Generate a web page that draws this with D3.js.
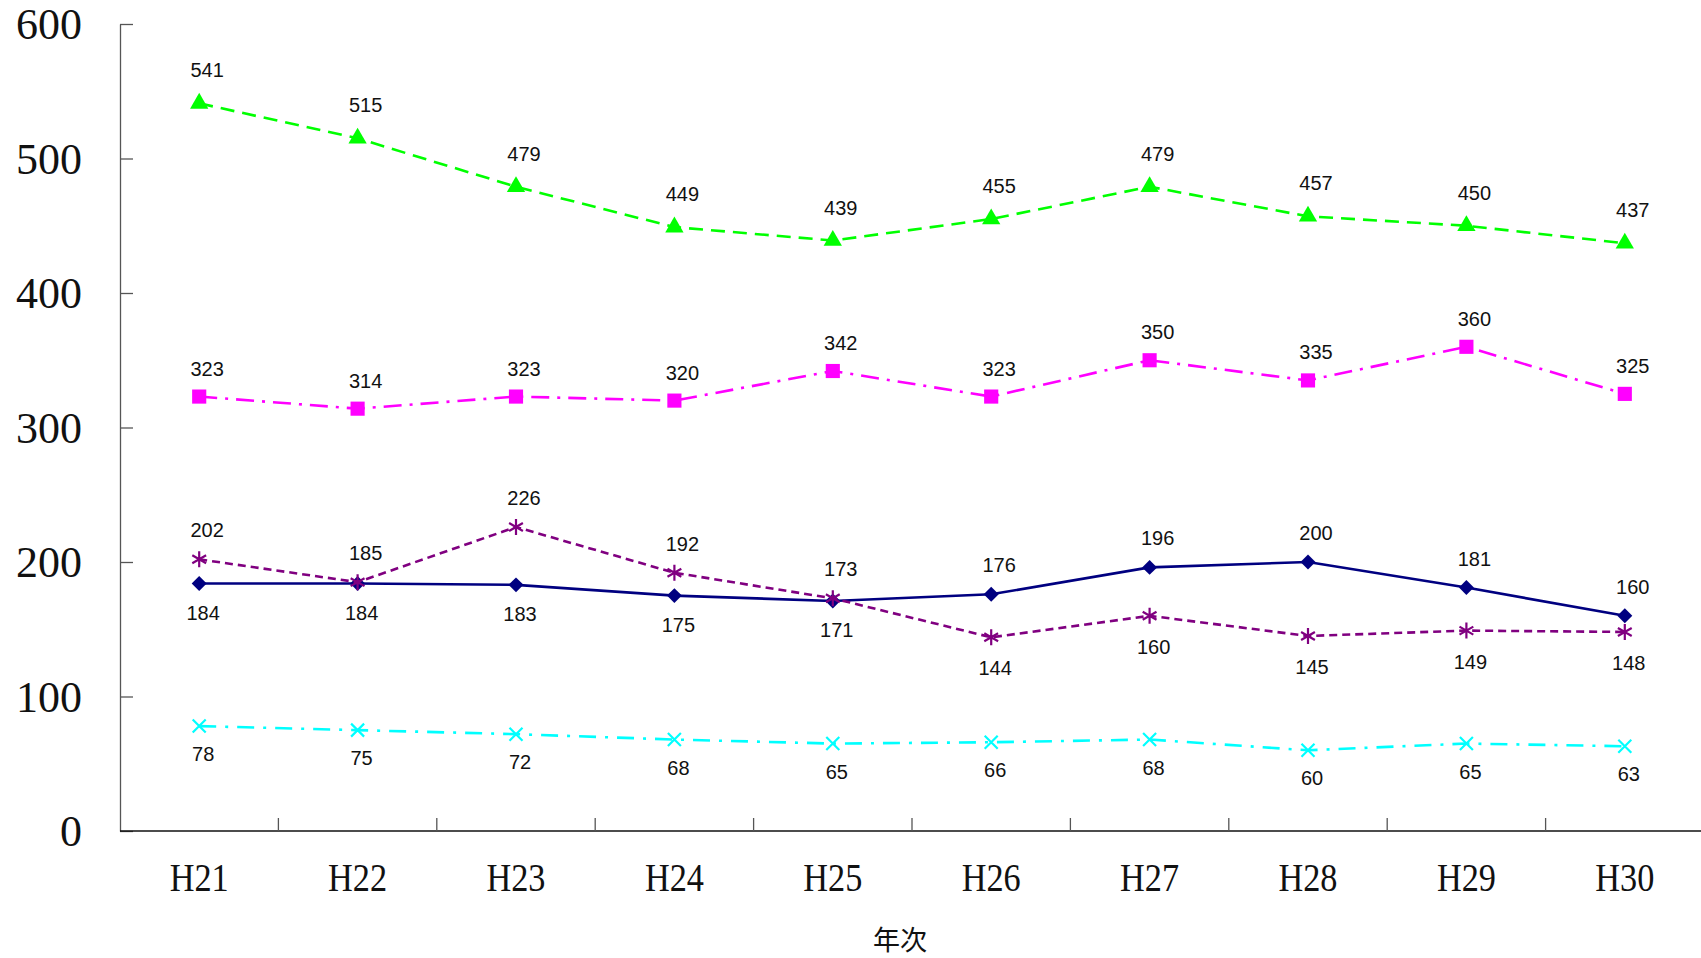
<!DOCTYPE html>
<html lang='ja'>
  <head>
    <meta charset='utf-8'>
    <style>
      body { margin: 0; background: #fff; }
      svg { display: block; }
    </style>
  </head>
  <body>
    <div id='chart'></div>

    <script src='https://cdn.jsdelivr.net/npm/d3@7'></script>
    <script>
      // years (categories)
      var years = ['H21', 'H22', 'H23', 'H24', 'H25', 'H26', 'H27', 'H28', 'H29', 'H30'];
      var yTicks = [0, 100, 200, 300, 400, 500, 600];

      // series values
      var greenVals   = [541, 515, 479, 449, 439, 455, 479, 457, 450, 437];
      var magentaVals = [323, 314, 323, 320, 342, 323, 350, 335, 360, 325];
      var navyVals    = [184, 184, 183, 175, 171, 176, 196, 200, 181, 160];
      var purpleVals  = [202, 185, 226, 192, 173, 144, 160, 145, 149, 148];
      var cyanVals    = [78, 75, 72, 68, 65, 66, 68, 60, 65, 63];

      // which side the value label sits on
      var navyLabelSide   = ['below', 'below', 'below', 'below', 'below', 'above', 'above', 'above', 'above', 'above'];
      var purpleLabelSide = ['above', 'above', 'above', 'above', 'above', 'below', 'below', 'below', 'below', 'below'];

      (function () {
        var width = 1701, height = 958;
        var plotLeft = 120, plotTop = 24, plotBottom = 831, plotRight = 1704;

        var svg = d3.select('#chart').append('svg')
            .attr('width', width)
            .attr('height', height);

        var x = d3.scaleBand().domain(years).range([plotLeft, plotRight]);
        var y = d3.scaleLinear().domain([0, 600]).range([plotBottom, plotTop]);

        // y axis
        var yAxis = svg.append('g')
            .attr('transform', 'translate(' + plotLeft + ',0)')
            .call(d3.axisRight(y).tickValues(yTicks).tickSize(13).tickSizeOuter(0).tickFormat(''));
        yAxis.select('.domain').attr('stroke', '#555').attr('stroke-width', 1.3);
        yAxis.selectAll('.tick line').attr('stroke', '#555').attr('stroke-width', 1.3);

        svg.append('g').selectAll('text')
            .data(yTicks)
          .enter().append('text')
            .attr('x', 82)
            .attr('y', function (d) { return y(d); })
            .attr('dy', '0.35em')
            .attr('text-anchor', 'end')
            .attr('font-family', 'Liberation Serif, serif')
            .attr('font-size', 44)
            .attr('fill', '#111')
            .text(function (d) { return d; });

        // x axis
        var xAxis = svg.append('g')
            .attr('transform', 'translate(0,' + plotBottom + ')');
        xAxis.append('line')
            .attr('x1', plotLeft).attr('x2', width)
            .attr('stroke', '#111').attr('stroke-width', 1.3);
        xAxis.selectAll('line.tk')
            .data(years.slice(1))
          .enter().append('line')
            .attr('class', 'tk')
            .attr('x1', function (d) { return x(d); })
            .attr('x2', function (d) { return x(d); })
            .attr('y1', 0).attr('y2', -13)
            .attr('stroke', '#555').attr('stroke-width', 1.3);
        xAxis.selectAll('text')
            .data(years)
          .enter().append('text')
            .attr('x', function (d) { return x(d) + x.bandwidth() / 2; })
            .attr('y', 60)
            .attr('text-anchor', 'middle')
            .attr('font-family', 'Liberation Serif, serif')
            .attr('font-size', 40)
            .attr('textLength', 59)
            .attr('lengthAdjust', 'spacingAndGlyphs')
            .attr('fill', '#111')
            .text(function (d) { return d; });

        svg.append('text')
            .attr('x', 900)
            .attr('y', 950)
            .attr('text-anchor', 'middle')
            .attr('font-family', 'Noto Sans CJK JP, sans-serif')
            .attr('font-size', 27)
            .attr('fill', '#111')
            .text('年次');

        var cx = function (i) { return x(years[i]) + x.bandwidth() / 2; };

        var asterisk = d3.symbolAsterisk || d3.symbolCross;
        var times = d3.symbolTimes || d3.symbolX || d3.symbolCross;

        // above / below label offsets differ a little per series
        var series = [
          { vals: cyanVals, color: '#00FFFF', dash: '17,9,3,9', sym: times, size: 112, fill: false, side: null, defSide: 'below', up: -22, down: 35 },
          { vals: navyVals, color: '#000080', dash: null, sym: d3.symbolSquare, size: 112, rot: 45, fill: true, side: navyLabelSide, up: -22, down: 36 },
          { vals: purpleVals, color: '#800080', dash: '8,5', sym: asterisk, size: 180, fill: false, side: purpleLabelSide, up: -22, down: 38 },
          { vals: magentaVals, color: '#FF00FF', dash: '18,8,3,8', sym: d3.symbolSquare, size: 200, fill: true, side: null, defSide: 'above', up: -21, down: 35 },
          { vals: greenVals, color: '#00FF00', dash: '14,8', sym: d3.symbolTriangle, size: 145, fill: true, side: null, defSide: 'above', up: -26, down: 35 }
        ];

        var line = d3.line()
            .x(function (d, i) { return cx(i); })
            .y(function (d) { return y(d); });

        series.forEach(function (s) {
          var g = svg.append('g');
          g.append('path')
              .datum(s.vals)
              .attr('d', line)
              .attr('fill', 'none')
              .attr('stroke', s.color)
              .attr('stroke-width', 2.6)
              .attr('stroke-dasharray', s.dash);

          g.selectAll('path.mk')
              .data(s.vals)
            .enter().append('path')
              .attr('class', 'mk')
              .attr('d', d3.symbol().type(s.sym).size(s.size))
              .attr('transform', function (d, i) {
                return 'translate(' + cx(i) + ',' + y(d) + ')' + (s.rot ? ' rotate(' + s.rot + ')' : '');
              })
              .attr('fill', s.fill ? s.color : 'none')
              .attr('stroke', s.color)
              .attr('stroke-width', s.fill ? 0 : 2.2);

          svg.append('g').selectAll('text')
              .data(s.vals)
            .enter().append('text')
              .attr('x', function (d, i) {
                var side = s.side ? s.side[i] : s.defSide;
                return cx(i) + (side === 'above' ? 8 : 4);
              })
              .attr('y', function (d, i) {
                var side = s.side ? s.side[i] : s.defSide;
                return y(d) + (side === 'above' ? s.up : s.down);
              })
              .attr('text-anchor', 'middle')
              .attr('font-family', 'Liberation Sans, sans-serif')
              .attr('font-size', 20)
              .attr('fill', '#111')
              .text(function (d) { return d; });
        });
      })();
    </script>
  </body>
</html>
